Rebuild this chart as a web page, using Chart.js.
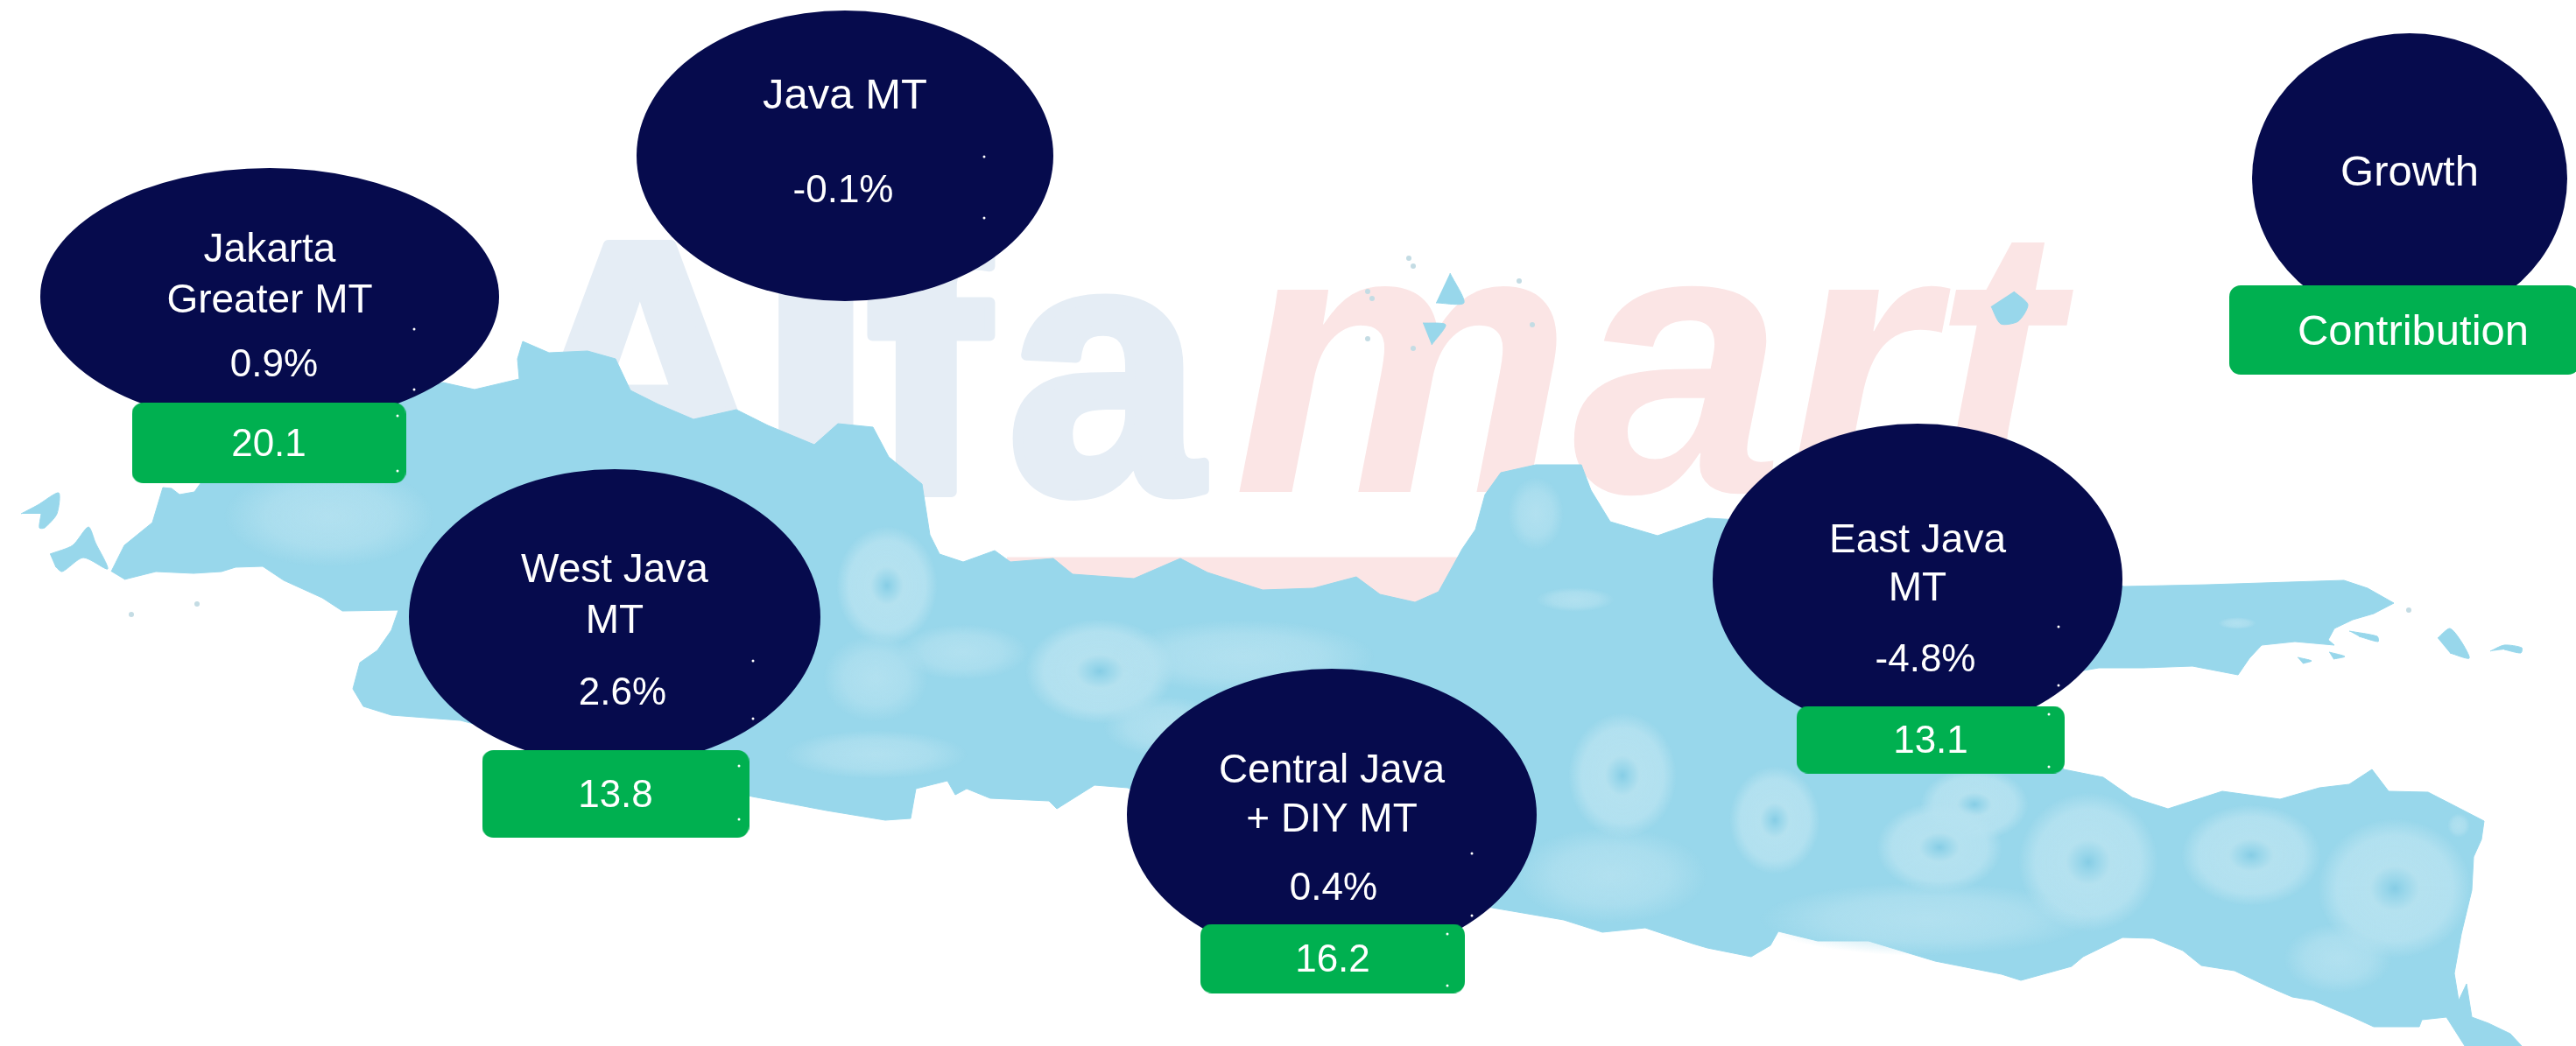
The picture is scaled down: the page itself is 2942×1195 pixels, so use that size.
<!DOCTYPE html>
<html>
<head>
<meta charset="utf-8">
<title>Java MT growth and contribution</title>
<script src="https://cdn.jsdelivr.net/npm/chart.js@4/dist/chart.umd.min.js"></script>
<style>
	html, body { margin: 0; padding: 0; background: #fff; }
	canvas { display: block; }
</style>
</head>
<body>
<canvas id="mapChart" width="2942" height="1195"></canvas>
<script>
// values
const regions = ["Java MT", "Jakarta Greater MT", "West Java MT", "Central Java + DIY MT", "East Java MT"];
const growth = [-0.1, 0.9, 2.6, 0.4, -4.8];
const contribution = [null, 20.1, 13.8, 16.2, 13.1];
const legendLabels = ["Growth", "Contribution"];

// how each region name wraps inside its bubble
const nameLines = [["Java MT"], ["Jakarta", "Greater MT"], ["West Java", "MT"], ["Central Java", "+ DIY MT"], ["East Java", "MT"]];

// where things sit on the map, in map units
const bubbleSpots = [
	{ x: 965, y: 178, rx: 238, ry: 166 },
	{ x: 308, y: 339, rx: 262, ry: 147 },
	{ x: 702, y: 705, rx: 235, ry: 169 },
	{ x: 1521, y: 931, rx: 234, ry: 167 },
	{ x: 2190, y: 662, rx: 234, ry: 178 },
	{ x: 2752, y: 204, rx: 180, ry: 166 },
];
const pillSpots = [
	{ x: 307, y: 506, w: 313, h: 92 },
	{ x: 703, y: 907, w: 305, h: 100 },
	{ x: 1522, y: 1095, w: 302, h: 79 },
	{ x: 2205, y: 845, w: 306, h: 77 },
	{ x: 2746, y: 377, w: 400, h: 102 },
];
const nameRows = [[110], [286, 344], [652, 710], [881, 937], [618, 673]];
const growthRows = [219, 418, 793, 1016, 755];
const growthCols = [963, 313, 711, 1523, 2199];

// island outlines
const javaCoast = [[127,653],[142,623],[174,597],[186,557],[196,558],[205,565],[222,562],[232,548],[260,490],[400,470],[506,437],[542,445],[593,433],[591,410],[597,390],[627,403],[671,401],[703,410],[720,446],[752,462],[792,479],[841,468],[877,486],[930,508],[957,484],[997,488],[1015,522],[1053,553],[1062,611],[1073,633],[1100,642],[1136,629],[1154,642],[1203,638],[1225,656],[1295,661],[1348,638],[1379,654],[1442,674],[1500,672],[1549,659],[1576,679],[1616,688],[1643,676],[1670,627],[1685,605],[1696,565],[1714,540],[1754,531],[1806,531],[1817,560],[1839,596],[1893,612],[1950,592],[2100,600],[2426,670],[2521,668],[2677,663],[2704,672],[2734,689],[2711,701],[2687,708],[2666,718],[2659,731],[2666,737],[2621,733],[2583,737],[2569,752],[2556,771],[2504,761],[2448,763],[2397,763],[2300,780],[2357,879],[2402,888],[2435,911],[2476,924],[2538,904],[2604,913],[2649,900],[2683,896],[2709,879],[2728,904],[2773,905],[2808,923],[2837,938],[2834,959],[2825,979],[2823,1017],[2811,1067],[2803,1112],[2808,1143],[2817,1124],[2823,1162],[2842,1169],[2867,1181],[2880,1195],[2815,1195],[2794,1162],[2766,1165],[2763,1173],[2711,1173],[2687,1162],[2642,1143],[2618,1139],[2590,1127],[2552,1109],[2514,1103],[2493,1086],[2459,1072],[2424,1071],[2379,1093],[2366,1104],[2308,1120],[2286,1113],[2210,1098],[2134,1075],[2076,1075],[2031,1064],[2022,1080],[2000,1093],[1950,1083],[1933,1078],[1879,1060],[1830,1065],[1786,1051],[1710,1038],[1500,1000],[1288,900],[1250,897],[1207,924],[1198,915],[1131,912],[1104,901],[1091,908],[1082,892],[1046,901],[1040,935],[1011,937],[944,926],[886,915],[859,910],[700,870],[526,823],[447,817],[415,807],[403,787],[411,757],[431,743],[447,720],[455,697],[391,698],[368,683],[324,663],[300,647],[269,648],[253,653],[221,655],[178,653],[142,662]];
const smallIslands = [
	[[24,587],[43,577],[67,563],[65,587],[51,603],[45,603],[47,587]],
	[[57,633],[83,623],[101,602],[109,620],[123,650],[95,637],[71,653],[63,647]],
	[[2784,729],[2798,718],[2811,733],[2820,752],[2798,746]],
	[[2844,744],[2860,737],[2880,740],[2879,746],[2860,742]],
	[[2683,721],[2715,727],[2716,733],[2694,727]],
	[[2624,751],[2640,755],[2630,758]],
	[[2660,745],[2678,750],[2665,753]],
	[[1656,312],[1672,346],[1640,346]],
	[[1625,369],[1651,371],[1635,394]],
	[[2300,333],[2316,348],[2305,367],[2285,370],[2274,350]],
];
const greySpecks = [[1609,295],[1614,304],[1562,333],[1567,341],[1735,321],[1750,371],[1562,387],[1614,398],[225,690],[150,702],[2751,697]];
const whiteTicks = [[1124,179],[1124,249],[473,376],[473,445],[454,475],[454,538],[860,755],[860,821],[844,875],[844,936],[1681,975],[1681,1046],[1653,1067],[1653,1126],[2351,716],[2351,783],[2340,816],[2340,876]];
const logoBand = [[1150,637],[1668,637],[1668,710],[1150,710]];
const logoLetters = [
	{ ch: "A", left: 580, right: 880 },
	{ ch: "l", left: 887, right: 979 },
	{ ch: "f", left: 990, right: 1140 },
	{ ch: "a", left: 1151, right: 1381 },
];

// lighter uplands and the darker peaks in them
const relief = [
	{ x: 376, y: 590, rx: 120, ry: 58, kind: "soft" },
	{ x: 1013, y: 669, rx: 58, ry: 68, kind: "ring" },
	{ x: 1100, y: 745, rx: 75, ry: 32, kind: "soft" },
	{ x: 1000, y: 775, rx: 60, ry: 50, kind: "soft" },
	{ x: 1000, y: 862, rx: 105, ry: 28, kind: "soft" },
	{ x: 1256, y: 767, rx: 85, ry: 60, kind: "ring" },
	{ x: 1420, y: 750, rx: 150, ry: 42, kind: "soft" },
	{ x: 1330, y: 830, rx: 70, ry: 35, kind: "soft" },
	{ x: 1754, y: 587, rx: 32, ry: 42, kind: "soft" },
	{ x: 1799, y: 685, rx: 45, ry: 14, kind: "soft" },
	{ x: 1853, y: 886, rx: 62, ry: 72, kind: "ring" },
	{ x: 1840, y: 1000, rx: 110, ry: 55, kind: "soft" },
	{ x: 2027, y: 937, rx: 52, ry: 62, kind: "ring" },
	{ x: 2255, y: 919, rx: 62, ry: 42, kind: "ring" },
	{ x: 2215, y: 968, rx: 72, ry: 52, kind: "ring" },
	{ x: 2385, y: 985, rx: 80, ry: 80, kind: "ring" },
	{ x: 2571, y: 977, rx: 80, ry: 58, kind: "ring" },
	{ x: 2735, y: 1015, rx: 88, ry: 80, kind: "ring" },
	{ x: 2808, y: 943, rx: 13, ry: 14, kind: "soft" },
	{ x: 2670, y: 1095, rx: 62, ry: 40, kind: "soft" },
	{ x: 2200, y: 1050, rx: 190, ry: 42, kind: "soft" },
	{ x: 2555, y: 712, rx: 22, ry: 7, kind: "soft" },
];

const navy = "#060B4D";
const green = "#00B050";
const landBlue = "#98D7EB";
const fontFamily = '"Liberation Sans", Arial, sans-serif';

function ellipseMark(rx, ry) {
	const c = document.createElement("canvas");
	c.width = rx * 2;
	c.height = ry * 2;
	const g = c.getContext("2d");
	g.fillStyle = navy;
	g.beginPath();
	g.ellipse(rx, ry, rx, ry, 0, 0, Math.PI * 2);
	g.fill();
	return c;
}

function pillMark(w, h) {
	const c = document.createElement("canvas");
	c.width = w;
	c.height = h;
	const g = c.getContext("2d");
	g.fillStyle = green;
	g.beginPath();
	g.roundRect(0, 0, w, h, 13);
	g.fill();
	return c;
}

function reliefMark(rx, ry, kind) {
	const c = document.createElement("canvas");
	c.width = rx * 2;
	c.height = ry * 2;
	const g = c.getContext("2d");
	g.translate(rx, ry);
	g.scale(rx, ry);
	const grad = g.createRadialGradient(0, 0, 0, 0, 0, 1);
	if (kind === "ring") {
		grad.addColorStop(0, "#86CDE5");
		grad.addColorStop(0.12, "#98D6EA");
		grad.addColorStop(0.32, "#B4E1EF");
		grad.addColorStop(0.75, "rgba(182,226,240,0.85)");
		grad.addColorStop(1, "rgba(182,226,240,0)");
	} else {
		grad.addColorStop(0, "rgba(182,226,240,0.85)");
		grad.addColorStop(0.6, "rgba(182,226,240,0.6)");
		grad.addColorStop(1, "rgba(182,226,240,0)");
	}
	g.fillStyle = grad;
	g.beginPath();
	g.arc(0, 0, 1, 0, Math.PI * 2);
	g.fill();
	return c;
}

function toPoints(list) {
	return list.map((p) => ({ x: p[0], y: p[1] }));
}

function landDataset(outline, color, order, tension) {
	return {
		data: toPoints(outline),
		showLine: true,
		fill: "shape",
		backgroundColor: color,
		borderColor: color,
		borderWidth: 1,
		pointRadius: 0,
		tension: tension,
		order: order,
	};
}

function markDataset(spots, marks, order) {
	return {
		data: spots.map((s) => ({ x: s.x, y: s.y })),
		showLine: false,
		pointStyle: marks,
		pointRadius: 10,
		order: order,
	};
}

function speckDataset(list, color, size, order) {
	return {
		data: toPoints(list),
		showLine: false,
		pointStyle: "circle",
		pointRadius: size,
		pointBorderWidth: 0,
		pointBackgroundColor: color,
		order: order,
	};
}

const bubbleMarks = bubbleSpots.map((s) => ellipseMark(s.rx, s.ry));
const pillMarks = pillSpots.map((s) => pillMark(s.w, s.h));
const reliefMarks = relief.map((s) => reliefMark(s.rx, s.ry, s.kind));

const datasets = [
	speckDataset(whiteTicks, "#FFFFFF", 1.5, 0),
	markDataset(pillSpots, pillMarks, 1),
	markDataset(bubbleSpots, bubbleMarks, 2),
	markDataset(relief, reliefMarks, 3),
	landDataset(javaCoast, landBlue, 4, 0),
	landDataset(logoBand, "#FBE5E5", 6, 0),
	speckDataset(greySpecks, "#C4DCE4", 3, 5),
];
smallIslands.forEach((shape) => datasets.push(landDataset(shape, landBlue, 5, 0.25)));

// faded logo behind the map
const logoPlugin = {
	id: "logo",
	beforeDatasetsDraw(chart) {
		const ctx = chart.ctx;
		const x = chart.scales.x;
		const y = chart.scales.y;
		const base = y.getPixelForValue(562);
		ctx.save();
		ctx.textAlign = "left";
		ctx.textBaseline = "alphabetic";
		ctx.lineJoin = "round";
		ctx.lineWidth = 12;
		ctx.font = "bold 410px " + fontFamily;
		ctx.fillStyle = "#E5EDF5";
		ctx.strokeStyle = "#E5EDF5";
		logoLetters.forEach((l) => {
			// each letter is stretched to the width it has in the logo
			const box = ctx.measureText(l.ch);
			const inkLeft = -box.actualBoundingBoxLeft;
			const inkWidth = box.actualBoundingBoxRight + box.actualBoundingBoxLeft;
			const left = x.getPixelForValue(l.left) + 6;
			const wide = x.getPixelForValue(l.right) - 6 - left;
			ctx.save();
			ctx.translate(left, base);
			ctx.scale(wide / inkWidth, 1);
			ctx.fillText(l.ch, -inkLeft, 0);
			ctx.strokeText(l.ch, -inkLeft, 0);
			ctx.restore();
		});
		ctx.font = "italic bold 437px " + fontFamily;
		ctx.fillStyle = "#FBE5E5";
		ctx.fillText("mart", x.getPixelForValue(1408), base, 945);
		ctx.restore();
	},
};

// names and values on top of the marks
const labelPlugin = {
	id: "labels",
	afterDatasetsDraw(chart) {
		const ctx = chart.ctx;
		const x = chart.scales.x;
		const y = chart.scales.y;
		const put = (text, px, py, size) => {
			ctx.font = size + "px " + fontFamily;
			ctx.fillText(text, x.getPixelForValue(px), y.getPixelForValue(py));
		};
		ctx.save();
		ctx.fillStyle = "#FFFFFF";
		ctx.textAlign = "center";
		ctx.textBaseline = "middle";
		regions.forEach((region, i) => {
			const spot = bubbleSpots[i];
			const size = i === 0 ? 49 : 46;
			nameLines[i].forEach((line, k) => put(line, spot.x, nameRows[i][k], size));
			put(growth[i].toFixed(1) + "%", growthCols[i], growthRows[i], 44);
			if (contribution[i] !== null) {
				const pill = pillSpots[i - 1];
				put(contribution[i].toFixed(1), pill.x, pill.y + 3, 44);
			}
		});
		put(legendLabels[0], bubbleSpots[5].x, 198, 49);
		put(legendLabels[1], 2756, 380, 49);
		ctx.restore();
	},
};

const mapChart = new Chart(document.getElementById("mapChart").getContext("2d"), {
	type: "scatter",
	data: { datasets: datasets },
	options: {
		responsive: false,
		animation: false,
		events: [],
		layout: { padding: 0, autoPadding: false },
		plugins: {
			legend: { display: false },
			tooltip: { enabled: false },
		},
		scales: {
			x: { type: "linear", display: false, min: 0, max: 2942 },
			y: { type: "linear", display: false, reverse: true, min: 0, max: 1195 },
		},
	},
	plugins: [logoPlugin, labelPlugin],
});
</script>
</body>
</html>
